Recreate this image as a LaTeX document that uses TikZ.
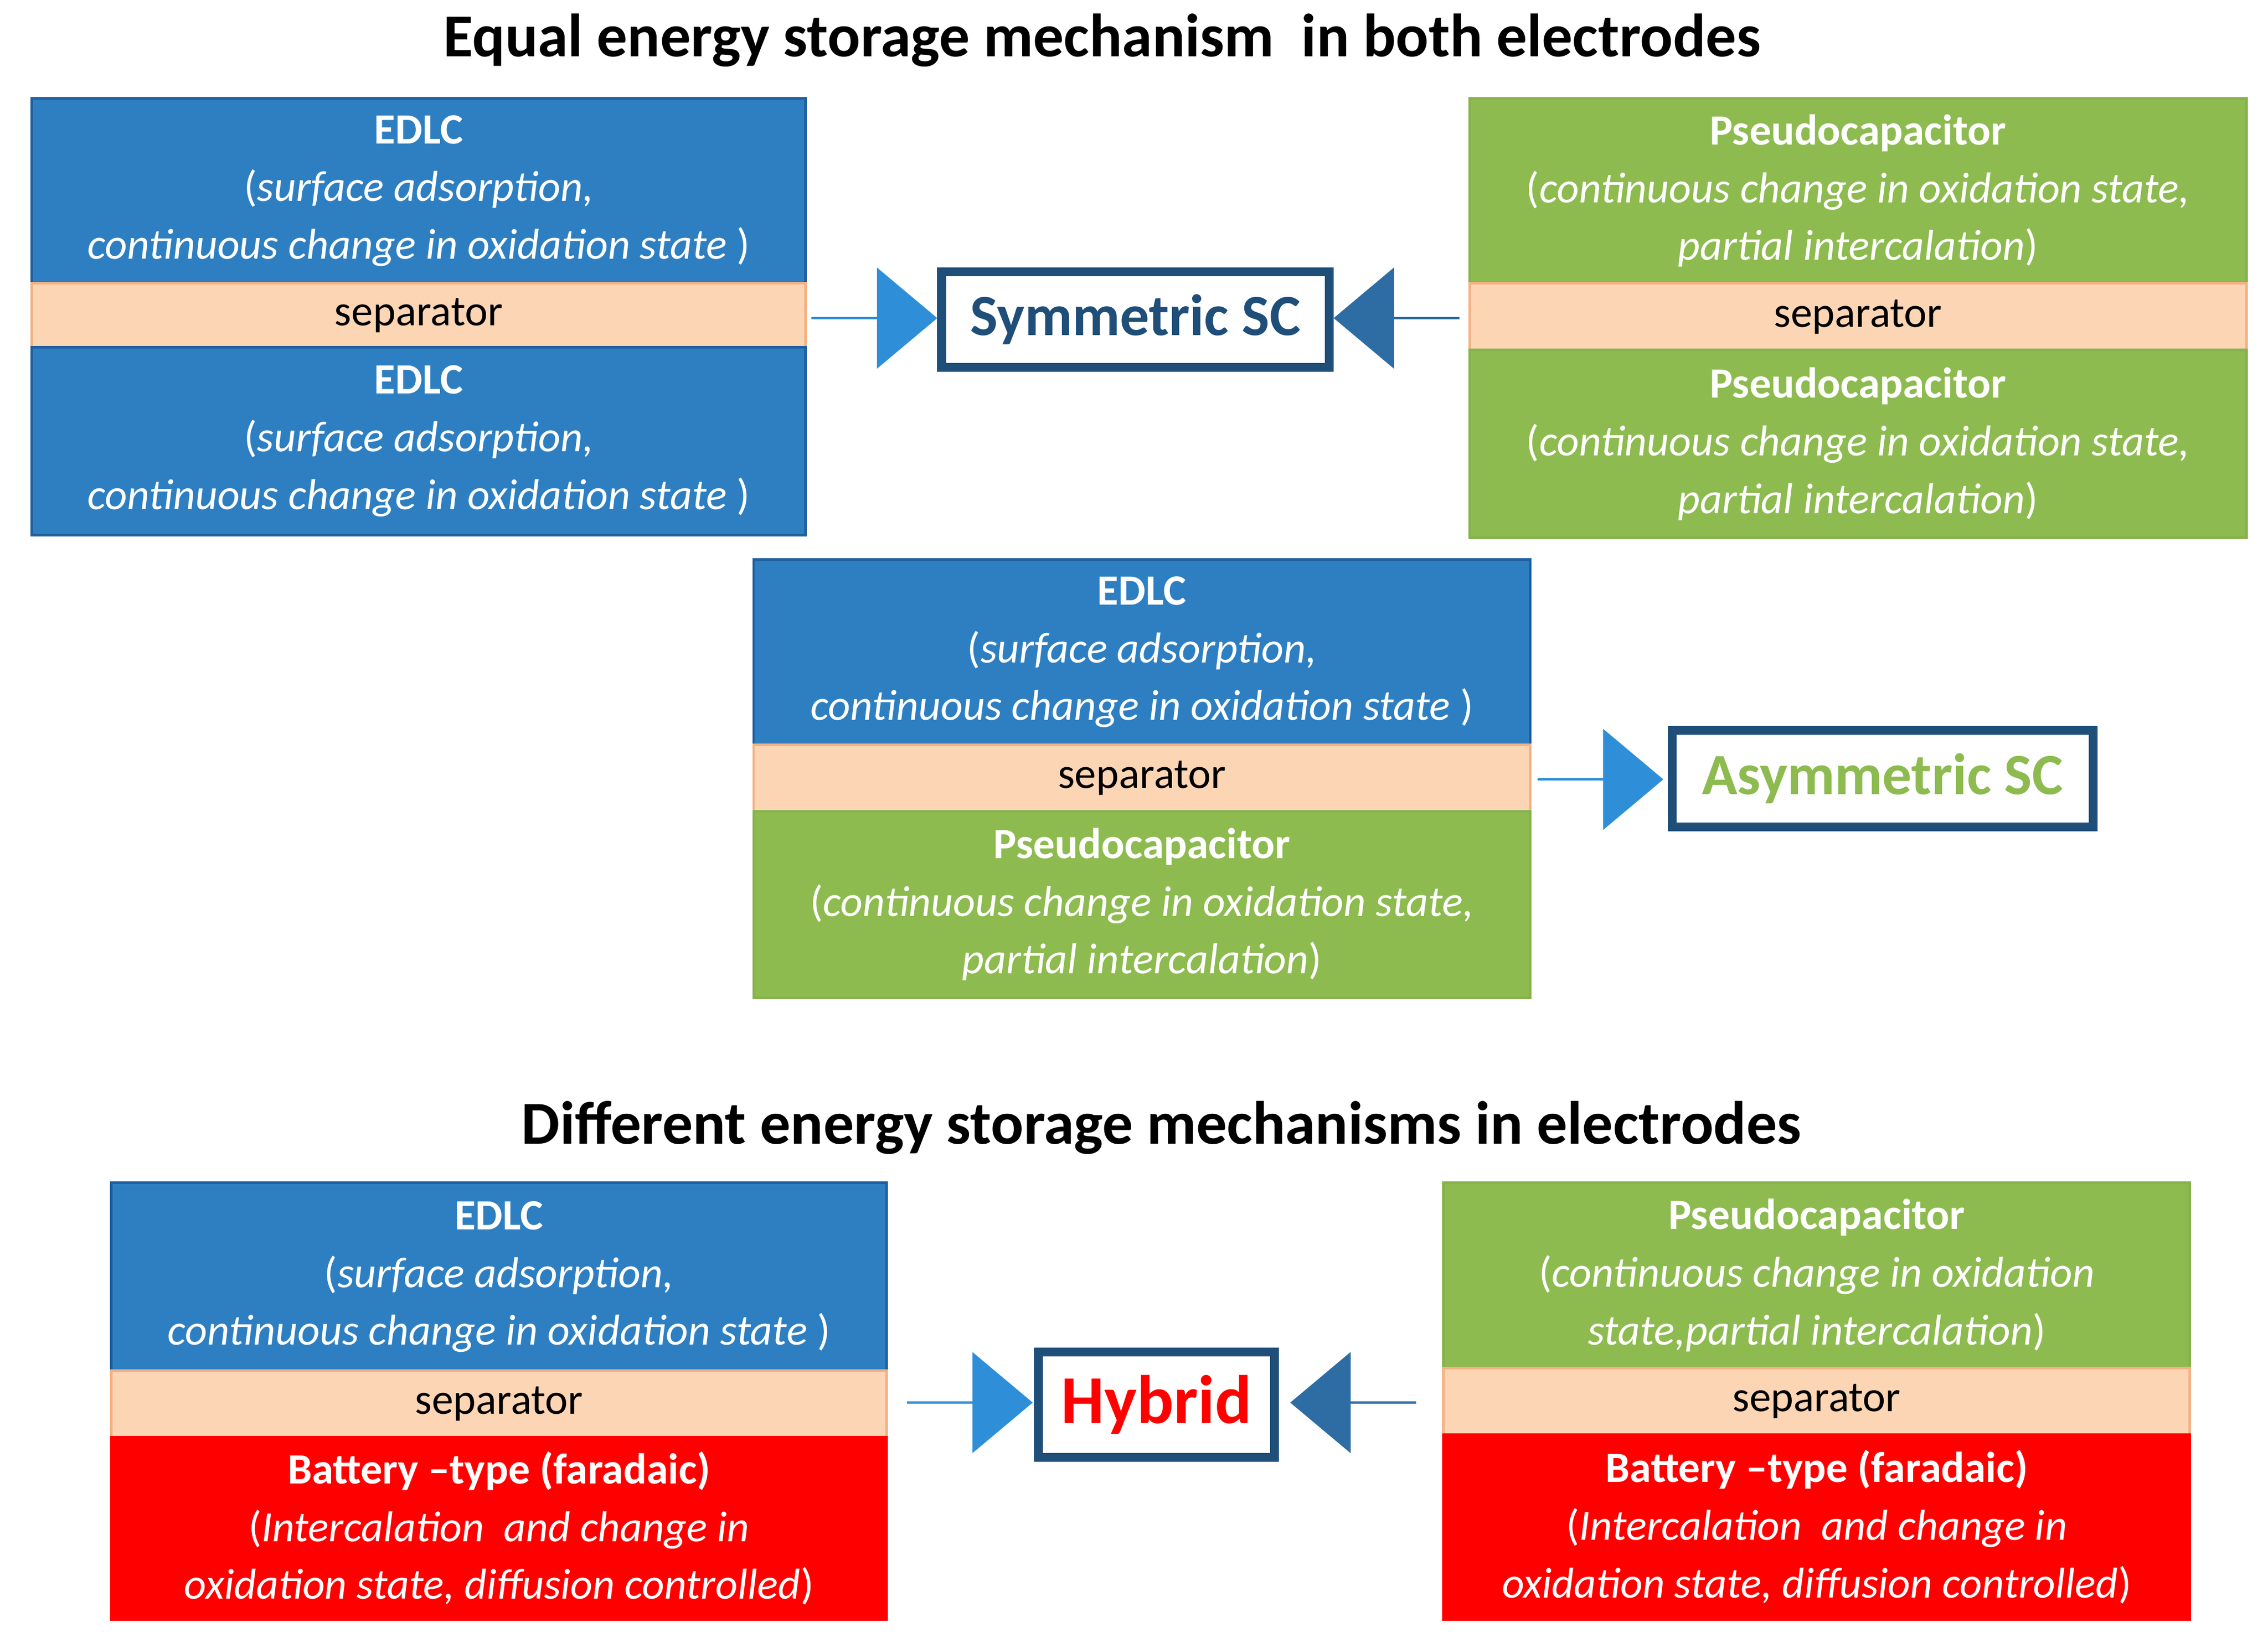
\documentclass[tikz,border=0pt]{standalone}
\usepackage{fontspec}
\setmainfont{Carlito}
\usetikzlibrary{shapes.arrows}
\definecolor{bl}{HTML}{2E7FC2}
\definecolor{blb}{HTML}{1F5F9E}
\definecolor{gr}{HTML}{8DBB50}
\definecolor{grb}{HTML}{86B24C}
\definecolor{sep}{HTML}{FCD5B4}
\definecolor{sepb}{HTML}{F4B183}
\definecolor{rd}{HTML}{FF0000}
\definecolor{dk}{HTML}{1F4E79}
\definecolor{arl}{HTML}{2E8FD8}
\definecolor{arr}{HTML}{2E6DA4}
\newcommand{\blk}[7]{%
 \pgfmathsetmacro{\cx}{(#2+#4)/2}\pgfmathsetmacro{\cy}{(#3+#5)/2}%
 \pgfmathsetmacro{\ww}{(#4-#2)*0.02}\pgfmathsetmacro{\hh}{(#5-#3)*0.02}%
 \node[#6,minimum width=\ww cm,minimum height=\hh cm] (#1) at (\cx,\cy) {#7};}
\tikzset{
 base/.style={draw,line width=1pt,inner sep=0pt,align=center,font=\fontsize{17}{22.7}\selectfont},
 edlc/.style={base,fill=bl,draw=blb,text=white},
 pseudo/.style={base,fill=gr,draw=grb,text=white},
 sepb/.style={base,fill=sep,draw=sepb,text=black},
 batt/.style={base,fill=rd,draw=rd,text=white},
 res/.style={draw=dk,line width=3.5pt,fill=white,inner sep=0pt,font=\bfseries\fontsize{23}{28}\selectfont},
 arw/.style={single arrow,minimum height=1.74cm,minimum width=1.4cm,single arrow head extend=0.3cm,inner sep=0pt,single arrow tip angle=80,draw=none},
 ttl/.style={font=\bfseries\fontsize{24}{29}\selectfont}
}
\newcommand{\E}{\textbf{EDLC}\\(\textit{surface adsorption,}\\\textit{continuous change in oxidation state} )}
\newcommand{\Pc}{\textbf{Pseudocapacitor}\\(\textit{continuous change in oxidation state,}\\\textit{partial intercalation})}
\newcommand{\B}{\textbf{Battery –type (faradaic)}\\(\textit{Intercalation\ \ and change in}\\\textit{oxidation state, diffusion controlled})}
\begin{document}
\begin{tikzpicture}[x=0.02cm,y=-0.02cm]
\useasboundingbox[fill=white] (0,0) rectangle (1568,1136);
\node[ttl] (t1) at (762,28) {Equal energy storage mechanism\ \ in both electrodes};
\node[ttl] (t2) at (803,780) {Different energy storage mechanisms in electrodes};
% top left
\blk{a1}{22}{68}{557}{196}{edlc}{\E}
\blk{a2}{22}{196}{557}{240}{sepb}{separator}
\blk{a3}{22}{240}{557}{370}{edlc}{\E}
% top right
\blk{b1}{1016}{68}{1553}{196}{pseudo}{\Pc}
\blk{b2}{1016}{196}{1553}{242}{sepb}{separator}
\blk{b3}{1016}{242}{1553}{372}{pseudo}{\Pc}
\blk{sym}{651}{188}{919}{254}{res,text=dk}{Symmetric SC}
\node[arw,fill=arl] (ar1) at (604,220) {};
\node[arw,fill=arr,shape border rotate=180] (ar2) at (966,220) {};
% middle
\blk{c1}{521}{387}{1058}{515}{edlc}{\E}
\blk{c2}{521}{515}{1058}{561}{sepb}{separator}
\blk{c3}{521}{561}{1058}{690}{pseudo}{\Pc}
\blk{asym}{1156}{505}{1447}{572}{res,text=gr}{Asymmetric SC}
\node[arw,fill=arl] (ar3) at (1106,539) {};
% bottom left
\blk{d1}{77}{818}{613}{948}{edlc}{\E}
\blk{d2}{77}{948}{613}{994}{sepb}{separator}
\blk{d3}{77}{994}{613}{1120}{batt}{\B}
% bottom right
\blk{e1}{998}{818}{1514}{946}{pseudo}{\textbf{Pseudocapacitor}\\(\textit{continuous change in oxidation}\\\textit{state,partial intercalation})}
\blk{e2}{998}{946}{1514}{992}{sepb}{separator}
\blk{e3}{998}{992}{1514}{1120}{batt}{\B}
\blk{hyb}{718}{935}{881}{1008}{res,text=rd,font=\bfseries\fontsize{27}{32}\selectfont}{Hybrid}
\node[arw,fill=arl] (ar4) at (670,970) {};
\node[arw,fill=arr,shape border rotate=180] (ar5) at (936,970) {};
\end{tikzpicture}
\end{document}
